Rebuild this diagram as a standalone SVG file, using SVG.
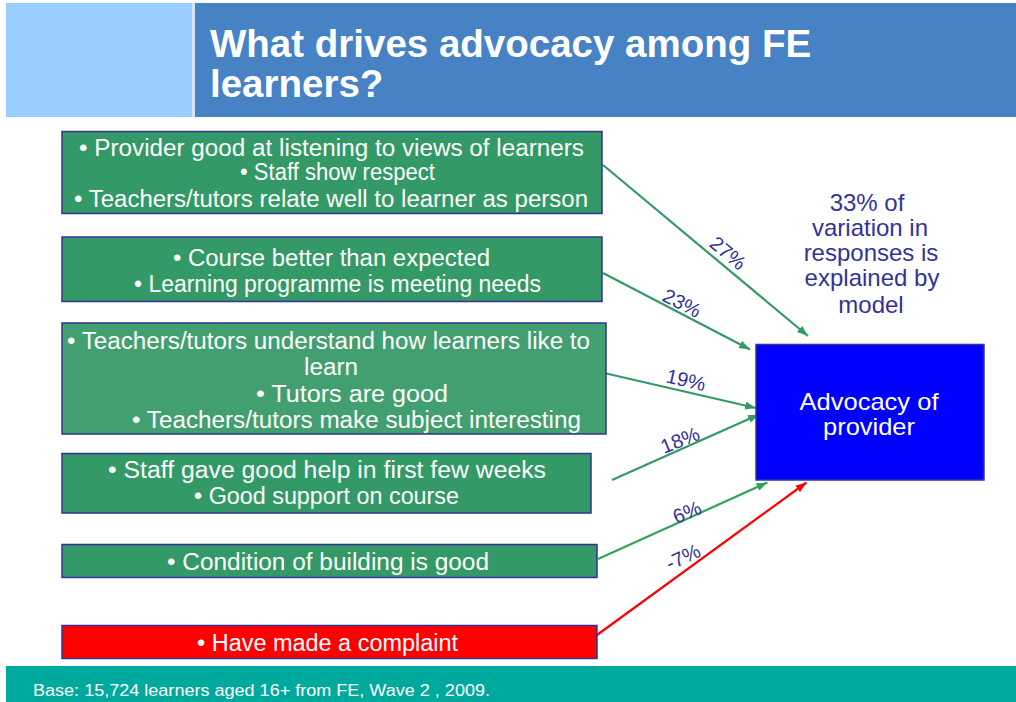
<svg xmlns="http://www.w3.org/2000/svg" width="1016" height="702" viewBox="0 0 1016 702">
<style>
.bx{fill:#339966;stroke:#333399;stroke-width:1.5}
.bx3{fill:#42a070;stroke:#333399;stroke-width:1.5}
.bxr{fill:#ff0000;stroke:#333399;stroke-width:1.5}
.t{font-family:"Liberation Sans",Arial,sans-serif;font-size:23.5px;fill:#ffffff}
.lab{font-family:"Liberation Sans",Arial,sans-serif;font-size:20px;fill:#333399;text-anchor:middle}
.note{font-family:"Liberation Sans",Arial,sans-serif;font-size:24px;fill:#333399;text-anchor:middle}
.ln{fill:none;stroke-width:2.2}
</style>
<defs>
<marker id="ag" markerUnits="userSpaceOnUse" markerWidth="12" markerHeight="9" refX="11" refY="4" orient="auto"><path d="M0,0 L11,4 L0,8 z" fill="#339966"/></marker>
<marker id="al" markerUnits="userSpaceOnUse" markerWidth="12" markerHeight="9" refX="11" refY="4" orient="auto"><path d="M0,0 L11,4 L0,8 z" fill="#33a35a"/></marker>
<marker id="ar" markerUnits="userSpaceOnUse" markerWidth="12" markerHeight="9" refX="11" refY="4" orient="auto"><path d="M0,0 L11,4 L0,8 z" fill="#ff0000"/></marker>
</defs>
<rect x="0" y="0" width="1016" height="702" fill="#ffffff"/>
<g id="header">
<rect x="6" y="3" width="186" height="114" fill="#99ccff"/>
<rect x="192" y="3" width="3" height="114" fill="#d4e2f4"/>
<rect x="195" y="3" width="821" height="114" fill="#4682c4"/>
<text x="210" y="57" font-family="Liberation Sans,Arial,sans-serif" font-size="38.5" font-weight="bold" fill="#ffffff">What drives advocacy among FE</text>
<text x="210" y="97" font-family="Liberation Sans,Arial,sans-serif" font-size="38.5" font-weight="bold" fill="#ffffff">learners?</text>
</g>
<g id="connectors">
<line class="ln" x1="603" y1="165" x2="808" y2="336" stroke="#339966" marker-end="url(#ag)"/>
<line class="ln" x1="603" y1="273" x2="750" y2="349.5" stroke="#339966" marker-end="url(#ag)"/>
<line class="ln" x1="602" y1="372.5" x2="756" y2="408" stroke="#339966" marker-end="url(#ag)"/>
<line class="ln" x1="612" y1="480" x2="759" y2="414.5" stroke="#339966" stroke-width="2.8" marker-end="url(#ag)"/>
<line class="ln" x1="598" y1="559" x2="767.5" y2="482.5" stroke="#33a35a" marker-end="url(#al)"/>
<line class="ln" x1="597" y1="635" x2="806.5" y2="482.5" stroke="#ff0000" marker-end="url(#ar)"/>
<text class="lab" transform="translate(728,253) rotate(40)" dy="0.35em">27%</text>
<text class="lab" transform="translate(682,303) rotate(27)" dy="0.35em">23%</text>
<text class="lab" transform="translate(686,380) rotate(13)" dy="0.35em">19%</text>
<text class="lab" transform="translate(680,440) rotate(-22)" dy="0.35em">18%</text>
<text class="lab" transform="translate(687,512) rotate(-22)" dy="0.35em">6%</text>
<text class="lab" transform="translate(683,557) rotate(-25)" dy="0.35em">-7%</text>
</g>
<g id="n1">
<rect class="bx" x="62" y="131.5" width="540" height="82"/>
<text class="t" x="79" y="156" textLength="505" lengthAdjust="spacingAndGlyphs">• Provider good at listening to views of learners</text>
<text class="t" x="240" y="180" textLength="195" lengthAdjust="spacingAndGlyphs">• Staff show respect</text>
<text class="t" x="74" y="207" textLength="514" lengthAdjust="spacingAndGlyphs">• Teachers/tutors relate well to learner as person</text>
</g>
<g id="n2">
<rect class="bx" x="62" y="237" width="540" height="64.5"/>
<text class="t" x="173" y="266" textLength="317" lengthAdjust="spacingAndGlyphs">• Course better than expected</text>
<text class="t" x="134" y="291.5" textLength="407" lengthAdjust="spacingAndGlyphs">• Learning programme is meeting needs</text>
</g>
<g id="n3">
<rect class="bx3" x="62" y="323" width="544" height="111"/>
<text class="t" x="67" y="348.5" textLength="523" lengthAdjust="spacingAndGlyphs">• Teachers/tutors understand how learners like to</text>
<text class="t" x="304" y="375" textLength="54" lengthAdjust="spacingAndGlyphs">learn</text>
<text class="t" x="256" y="401.5" textLength="192" lengthAdjust="spacingAndGlyphs">• Tutors are good</text>
<text class="t" x="132" y="427.5" textLength="449" lengthAdjust="spacingAndGlyphs">• Teachers/tutors make subject interesting</text>
</g>
<g id="n4">
<rect class="bx" x="62" y="453.5" width="529" height="59.5"/>
<text class="t" x="108" y="477.5" textLength="438" lengthAdjust="spacingAndGlyphs">• Staff gave good help in first few weeks</text>
<text class="t" x="194" y="504" textLength="265" lengthAdjust="spacingAndGlyphs">• Good support on course</text>
</g>
<g id="n5">
<rect class="bx" x="62" y="544.5" width="535" height="33"/>
<text class="t" x="167" y="569.5" textLength="322" lengthAdjust="spacingAndGlyphs">• Condition of building is good</text>
</g>
<g id="n6">
<rect class="bxr" x="62" y="625.5" width="535" height="33"/>
<text class="t" x="197" y="651" textLength="261" lengthAdjust="spacingAndGlyphs">• Have made a complaint</text>
</g>
<g id="target">
<rect x="756" y="344.5" width="228" height="135.5" fill="#0000ff" stroke="#333399" stroke-width="1.5"/>
<text x="869" y="410" font-family="Liberation Sans,Arial,sans-serif" font-size="24" fill="#ffffff" text-anchor="middle" textLength="139" lengthAdjust="spacingAndGlyphs">Advocacy of</text>
<text x="869" y="435" font-family="Liberation Sans,Arial,sans-serif" font-size="24" fill="#ffffff" text-anchor="middle" textLength="92" lengthAdjust="spacingAndGlyphs">provider</text>
</g>
<g id="note">
<text class="note" x="867" y="211">33% of</text>
<text class="note" x="870" y="236">variation in</text>
<text class="note" x="871" y="261">responses is</text>
<text class="note" x="872" y="286">explained by</text>
<text class="note" x="871" y="312.5">model</text>
</g>
<g id="footer">
<rect x="6" y="666" width="1010" height="36" fill="#00a99d"/>
<text x="33" y="696" font-family="Liberation Sans,Arial,sans-serif" font-size="16" fill="#ffffff" textLength="457" lengthAdjust="spacingAndGlyphs">Base: 15,724 learners aged 16+ from FE, Wave 2 , 2009.</text>
</g>
</svg>
